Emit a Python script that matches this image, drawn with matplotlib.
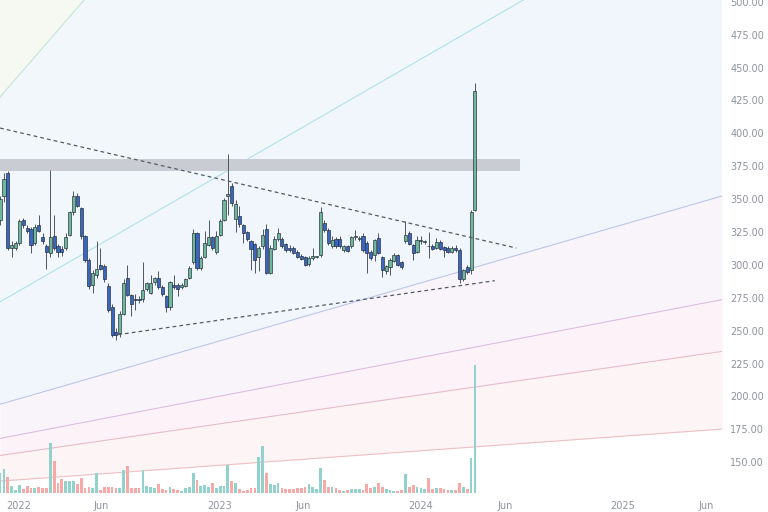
import numpy as np
import pandas as pd
import matplotlib
matplotlib.use("Agg")
import matplotlib.pyplot as plt
import matplotlib.dates as mdates

# weekly candles, first one starts 2021-11-29
dates = pd.date_range("2021-11-29", periods=124, freq="7D")

opens = [334, 352, 370, 313, 313, 317, 334, 328, 327, 317,
         330, 321, 314, 309, 322, 314, 312, 313, 323, 340,
         352, 343, 322, 304, 285, 292, 300, 299, 284, 268,
         249, 248, 263, 290, 277, 274, 274, 274, 282, 279,
         287, 290, 283, 276, 268, 285, 285, 283.5, 284, 290,
         302, 324, 298, 306, 315, 321, 310, 323, 334, 352,
         360, 335, 337, 330, 325, 318, 316, 306, 314, 327,
         294, 312, 320, 320, 316, 313, 313, 310, 307, 306,
         301, 305.5, 306, 307.7, 332, 326.7, 314.5, 320, 319.5, 311,
         314, 314, 321, 320, 322, 317, 310, 307.7, 320.7, 306,
         295.6, 298.6, 303, 307.7, 302.4, 318.4, 324.5, 315.4, 310, 318,
         317.5, 314.5, 314.5, 313, 317.6, 313.6, 313, 310, 313, 311.6,
         289.5, 298.6, 296, 342]
highs = [352, 370, 371, 318, 318, 335, 336, 330, 329, 331,
         338, 324, 316, 372, 338, 316, 314, 324, 341, 356,
         355, 344, 323, 305, 296, 318, 313, 301, 286, 270,
         252, 265, 289, 300, 278, 278, 276, 302, 287, 292,
         291, 295, 285, 277, 288, 292, 286, 286, 290, 299,
         327, 325, 307, 326, 334, 322, 326, 335, 351, 384,
         362, 349, 345, 331, 326, 319, 317, 314, 327, 331,
         315, 322, 328, 321, 317, 315, 314, 311, 308, 307,
         307, 313, 307, 344, 334, 328, 322, 321, 322, 315,
         315, 322, 326.7, 322, 324, 318, 311, 320, 324.5, 307,
         300, 305, 309, 308.5, 303, 333, 326, 316, 322, 322,
         319, 325, 316, 320.7, 319, 314, 314, 314, 315, 313,
         297, 300, 342, 438.5]
lows = [330, 348, 311, 306, 311, 315, 328, 324, 309, 315,
        325, 316, 297, 306, 311, 306, 307, 311, 322, 338,
        344, 320, 302, 282, 279, 290, 296, 287, 264, 245,
        243, 245, 262, 276, 261, 266, 271, 272, 280, 278,
        285, 282, 276, 264, 266, 282, 276, 282, 283, 289,
        301, 296, 296, 305, 314, 311, 308, 322, 333, 338,
        345, 325, 329, 317, 318, 296, 294, 295, 312, 293,
        293, 311, 318, 313, 310, 310, 308, 305, 304, 299,
        299, 304, 305, 306, 325, 315, 313, 313, 313, 310,
        310, 313, 319, 318, 310, 294, 304, 303, 308, 291,
        293, 292, 302, 299, 297, 317, 315, 304, 309, 316,
        316, 305.5, 311, 312, 311, 306, 309, 309, 310, 286.5,
        288, 293, 293, 341]
closes = [350, 365, 313, 315, 317, 333, 330, 326, 315, 329,
          326, 318, 310, 321, 313, 310, 310, 321, 340, 352,
          345, 322, 304, 284, 294, 297, 297, 289, 266, 247,
          247, 263, 286, 277, 270, 273, 273.5, 281, 286, 286,
          290, 283, 278, 268, 287, 283.5, 282, 285, 289, 298,
          324, 298, 305.5, 317, 321, 313, 322, 333, 349.5, 354,
          347, 346, 331, 324, 320, 312, 304, 313, 323, 294,
          313, 320, 324.5, 314, 311.6, 311.6, 309, 306, 304.7, 300,
          305.5, 307, 306.5, 340.4, 326.7, 317, 319, 314.5, 314, 314,
          310.8, 321.4, 321.5, 320.5, 311.6, 309, 305.5, 319, 309, 296.4,
          299.4, 304, 307.7, 300, 298.6, 323, 316, 309, 319, 318.5,
          318, 314, 312, 317.6, 312, 311.6, 310, 313, 311.6, 289.5,
          296.4, 294.5, 340, 432]
volumes = [200, 240, 167, 73, 33, 83, 40, 73, 50, 50,
           67, 50, 50, 507, 327, 100, 140, 123, 123, 123,
           90, 150, 50, 67, 50, 207, 33, 60, 67, 67,
           50, 50, 233, 273, 57, 50, 50, 233, 73, 60,
           50, 93, 40, 33, 60, 40, 33, 27, 50, 67,
           200, 133, 73, 83, 67, 100, 50, 73, 73, 283,
           127, 100, 40, 27, 33, 50, 50, 360, 473, 207,
           93, 80, 100, 50, 40, 40, 40, 50, 50, 67,
           93, 60, 40, 250, 133, 67, 67, 50, 33, 27,
           33, 43, 43, 43, 33, 93, 50, 67, 107, 67,
           40, 33, 27, 27, 33, 193, 67, 83, 67, 50,
           40, 150, 40, 50, 50, 40, 33, 33, 33, 107,
           60, 40, 350, 1283]

# drawings
price_ticks = [150, 175, 200, 225, 250, 275, 300, 325, 350, 375, 400, 425, 450, 475, 500]
time_ticks = ["2022-01-01", "2022-06-01", "2023-01-01", "2023-06-01",
              "2024-01-01", "2024-06-01", "2025-01-01", "2025-06-01"]
time_labels = ["2022", "Jun", "2023", "Jun", "2024", "Jun", "2025", "Jun"]
down_line = (["2021-11-29", "2024-06-22"], [404.0, 312.8])
up_line = (["2022-07-01", "2024-05-14"], [247.0, 288.0])
zone_end = "2024-06-28"
zone_prices = (371.4, 380.8)
gann_origin = ("2020-02-24", 116.2)
gann_unit = 0.2418  # price per day for 1x1
gann_ratios = [3, 2, 1, 1 / 2, 1 / 3, 1 / 4, 1 / 8]
gann_lines = [None, "#c2e6d8", "#b0e2e9", "#bcc4e9", "#dcbde0", "#e7bccb", "#edc0c6"]
gann_fills = ["#f5f9f1", "#f2f7fc", "#f1f6fc", "#f9f4fa", "#fcf2f7", "#fdf4f5"]

up_col = "#6fb79b"
dn_col = "#3a66c0"
txt_col = "#8f939c"

fig = plt.figure(figsize=(7.68, 5.12), dpi=100)
ax = fig.add_axes([0, 15 / 512, 722 / 768, 497 / 512])

t_ref = mdates.date2num(pd.Timestamp("2022-01-01"))
ppd = 0.5515
x_lo = t_ref - 18.3 / ppd
x_hi = t_ref + (722 - 18.3) / ppd
ax.set_xlim(x_lo, x_hi)
ax.set_ylim(123.6, 501.3)

# gann fan
tx = np.linspace(x_lo, x_hi, 200)
g0 = mdates.date2num(pd.Timestamp(gann_origin[0]))
fan = [gann_origin[1] + r * gann_unit * (tx - g0) for r in gann_ratios]
for i in range(len(fan) - 1):
    ax.fill_between(tx, fan[i + 1], fan[i], color=gann_fills[i], lw=0, zorder=0)
for i, f in enumerate(fan):
    if gann_lines[i]:
        ax.plot(tx, f, color=gann_lines[i], lw=0.8, zorder=1)

# resistance zone
zx = [x_lo, mdates.date2num(pd.Timestamp(zone_end))]
ax.fill_between(zx, zone_prices[0], zone_prices[1], color="#c9ccd2", lw=0, zorder=2)

# candles
xd = mdates.date2num(dates)
o = np.array(opens)
c = np.array(closes)
up = c >= o
cols = np.where(up, up_col, dn_col)
ax.vlines(xd, lows, highs, color="#4c5561", lw=0.7, zorder=3)
body = np.maximum(np.abs(c - o), 0.6)
ax.bar(xd, body, width=5.6, bottom=np.minimum(o, c), color=cols,
       edgecolor="#1e2633", linewidth=0.45, zorder=4)

# trendlines
for ln in (down_line, up_line):
    ax.plot(mdates.date2num(pd.to_datetime(ln[0])), ln[1], color="#555b66",
            lw=0.9, ls=(0, (3, 2.5)), zorder=5)

# volume
ax2 = ax.twinx()
vcols = np.where(up, "#92d2cc", "#f7a9a7")
ax2.bar(xd, volumes, width=5.0, color=vcols, lw=0, zorder=2)
ax2.set_ylim(-37, 4933)
ax2.set_yticks([])
for s in ax2.spines.values():
    s.set_visible(False)

ax.yaxis.tick_right()
ax.set_yticks(price_ticks)
ax.set_yticklabels(["%.2f" % p for p in price_ticks])
ax.set_xticks(mdates.date2num(pd.to_datetime(time_ticks)))
ax.set_xticklabels(time_labels)
ax.tick_params(axis="both", length=0, labelsize=7, colors=txt_col)
ax.tick_params(axis="y", pad=6)
ax.tick_params(axis="x", pad=3)
for s in ax.spines.values():
    s.set_visible(False)

fig.savefig("out.png", dpi=100)
